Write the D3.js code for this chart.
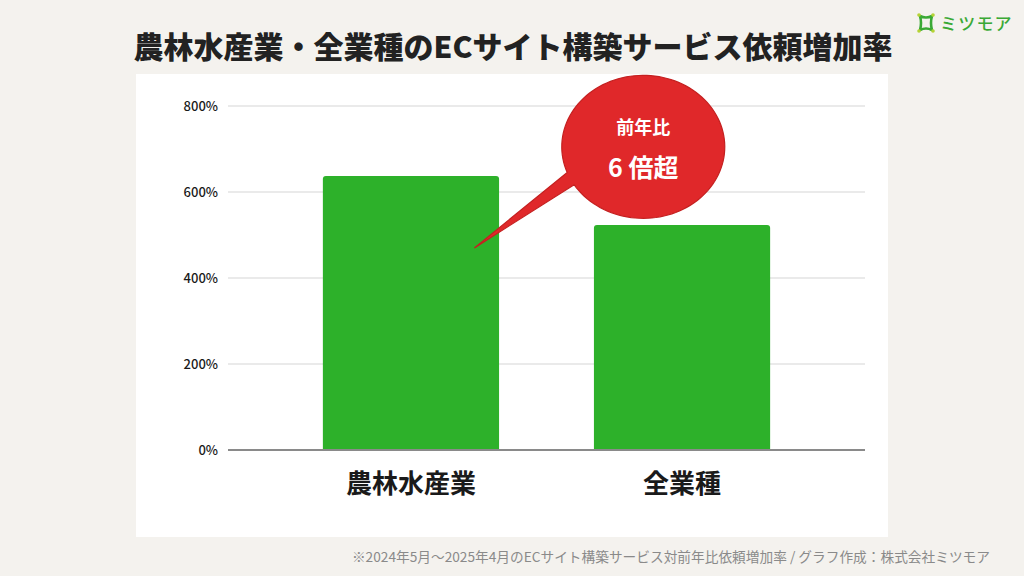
<!DOCTYPE html>
<html><head><meta charset="utf-8">
<script src="https://cdn.jsdelivr.net/npm/d3@7"></script>
<style>
html,body{margin:0;padding:0;background:#f4f2ee;}
svg{display:block;font-family:"Noto Sans CJK JP","Noto Sans",sans-serif;}
</style></head>
<body><svg id="c" width="1024" height="576"></svg>
<script>
const categories = ["農林水産業", "全業種"];
const values = [637, 523];
const tickValues = [0, 200, 400, 600, 800];
const tickLabels = ["0%", "200%", "400%", "600%", "800%"];
const titleText = "農林水産業・全業種のECサイト構築サービス依頼増加率";
const calloutLines = ["前年比", "6 倍超"];
const calloutAnchor = {cat: "農林水産業", value: 470};
const calloutCenter = {cat: "全業種", value: 705};
const footnote = "※2024年5月〜2025年4月のECサイト構築サービス対前年比依頼増加率 / グラフ作成：株式会社ミツモア";
const brand = "ミツモア";

const svg = d3.select("#c");
svg.append("rect").attr("width",1024).attr("height",576).attr("fill","#f4f2ee");
// panel
svg.append("rect").attr("x",136).attr("y",74).attr("width",752).attr("height",463).attr("fill","#ffffff");

// title
svg.append("text").attr("x",513).attr("y",58).attr("text-anchor","middle")
  .attr("font-size",30).attr("font-weight",900).attr("fill","#222").text(titleText);

// logo
const lg = svg.append("g").attr("transform","translate(926,23)");
lg.append("path").attr("d","M-6,-7 Q0,-4 6,-7 Q4,0 6,7 Q0,4 -6,7 Q-4,0 -6,-7 Z")
  .attr("fill","none").attr("stroke","#3aa935").attr("stroke-width",2.6).attr("stroke-linejoin","round");
[[-7,-8],[7,-8],[-7,8],[7,8]].forEach(p=>lg.append("circle").attr("cx",p[0]).attr("cy",p[1]).attr("r",1.8).attr("fill","#b5d334"));
svg.append("text").attr("x",940).attr("y",30).attr("font-size",17).attr("font-weight",500)
  .attr("fill","#3aa935").attr("letter-spacing",1.2).text(brand);

// scales
const x = d3.scaleBand().domain(categories).range([228,865]).paddingInner(0.35).paddingOuter(0.35);
const y = d3.scaleLinear().domain([0,800]).range([450,106]);

// grid
const grid = svg.append("g");
tickValues.forEach((t,i)=>{
  grid.append("line").attr("x1",228).attr("x2",865).attr("y1",y(t)).attr("y2",y(t))
    .attr("stroke", t===0 ? "#8a8a8a" : "#d6d6d6").attr("stroke-width", t===0 ? 2 : 1.2);
});
// y axis labels via d3 axis
const yAxis = d3.axisLeft(y).tickValues(tickValues).tickFormat((d,i)=>tickLabels[i]).tickSize(0).tickPadding(0);
const ya = svg.append("g").attr("transform","translate(218,0)").call(yAxis);
ya.select(".domain").remove();
ya.selectAll("text").attr("font-size",13).attr("font-weight",500).attr("fill","#1a1a1a")
  .attr("font-family","'Noto Sans CJK JP','Noto Sans',sans-serif").attr("dy","0.35em");

// bars
svg.append("g").selectAll("path").data(categories).join("path")
  .attr("fill","#2db12a")
  .attr("d",(d,i)=>{
    const x0=x(d), w=x.bandwidth(), y0=y(values[i]), y1=y(0), r=3;
    return `M${x0},${y1}V${y0+r}Q${x0},${y0} ${x0+r},${y0}H${x0+w-r}Q${x0+w},${y0} ${x0+w},${y0+r}V${y1}Z`;
  });
// baseline on top
svg.append("line").attr("x1",228).attr("x2",865).attr("y1",y(0)).attr("y2",y(0)).attr("stroke","#8a8a8a").attr("stroke-width",2);

// category labels
const xAxis = d3.axisBottom(x).tickSize(0).tickPadding(0);
const xa = svg.append("g").attr("transform","translate(0,494)").call(xAxis);
xa.select(".domain").remove();
xa.selectAll("text").attr("font-size",26).attr("font-weight",700).attr("fill","#1a1a1a")
  .attr("font-family","'Noto Sans CJK JP','Noto Sans',sans-serif").attr("dy","-0.05em").attr("dominant-baseline","auto");

// callout
const cx = x(calloutCenter.cat) + x.bandwidth()*0.28, cy = y(calloutCenter.value);
const rx = 81.5, ry = 71.5;
const tipX = x(calloutAnchor.cat) + x.bandwidth()*0.86, tipY = y(calloutAnchor.value);
const a1 = 159*Math.PI/180, a2 = 148*Math.PI/180;
const pts = [[tipX,tipY]];
const n = 120;
for(let k=0;k<=n;k++){
  const th = a2 - (a2 - (a1-2*Math.PI))*k/n;
  pts.push([cx+rx*Math.cos(th), cy+ry*Math.sin(th)]);
}
svg.append("path").attr("d", d3.line()(pts)+"Z").attr("fill","#e0282a")
  .attr("stroke","#c42020").attr("stroke-width",1.2).attr("stroke-linejoin","miter");
svg.append("text").attr("x",cx).attr("y",cy-13).attr("text-anchor","middle")
  .attr("font-size",18).attr("font-weight",700).attr("fill","#fff").text(calloutLines[0]);
svg.append("text").attr("x",cx).attr("y",cy+30).attr("text-anchor","middle")
  .attr("font-size",25).attr("font-weight",700).attr("fill","#fff").text(calloutLines[1]);

// footnote
svg.append("text").attr("x",990).attr("y",562).attr("text-anchor","end")
  .attr("font-size",13.7).attr("fill","#8a8a8a").text(footnote);
</script></body></html>
